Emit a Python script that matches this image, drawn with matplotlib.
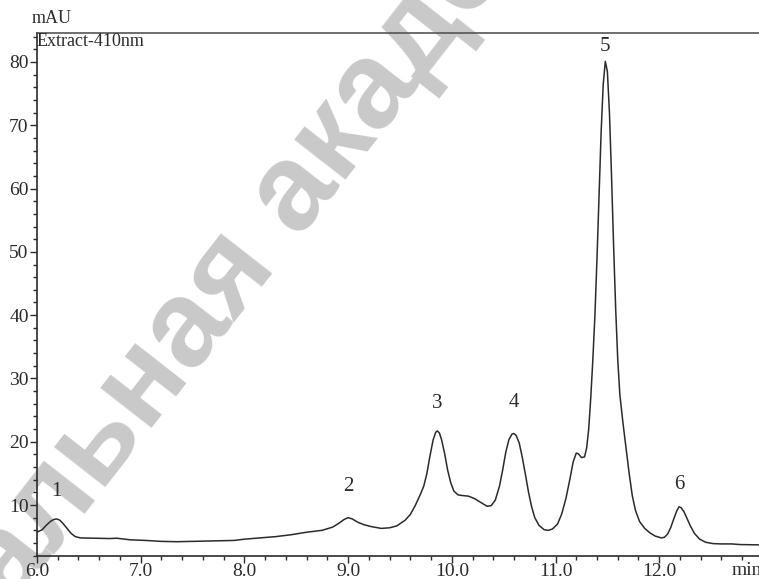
import matplotlib.pyplot as plt
from matplotlib.ticker import MultipleLocator

# chromatogram trace, extract at 410 nm
time_min = [6.00, 6.05, 6.09, 6.13, 6.16, 6.19, 6.22, 6.25, 6.29, 6.33,
            6.37, 6.42, 6.55, 6.70, 6.77, 6.90, 7.05, 7.20, 7.35, 7.50,
            7.70, 7.90, 8.00, 8.15, 8.30, 8.45, 8.60, 8.75, 8.85, 8.91,
            8.96, 9.00, 9.04, 9.09, 9.15, 9.22, 9.32, 9.40, 9.47, 9.55,
            9.60, 9.65, 9.70, 9.73, 9.76, 9.79, 9.82, 9.845, 9.86, 9.88,
            9.90, 9.93, 9.96, 9.99, 10.02, 10.06, 10.10, 10.16, 10.22, 10.28,
            10.34, 10.38, 10.42, 10.46, 10.49, 10.52, 10.55, 10.58, 10.60, 10.62,
            10.65, 10.68, 10.71, 10.74, 10.77, 10.80, 10.84, 10.89, 10.93, 10.97,
            11.02, 11.06, 11.10, 11.14, 11.17, 11.20, 11.22, 11.25, 11.28, 11.30,
            11.32, 11.34, 11.36, 11.38, 11.40, 11.42, 11.44, 11.46, 11.48, 11.50,
            11.52, 11.54, 11.56, 11.58, 11.60, 11.62, 11.65, 11.68, 11.71, 11.74,
            11.77, 11.81, 11.86, 11.91, 11.96, 12.02, 12.05, 12.08, 12.11, 12.14,
            12.17, 12.19, 12.21, 12.24, 12.27, 12.30, 12.34, 12.39, 12.45, 12.52,
            12.60, 12.70, 12.78, 12.96]
mau = [5.7, 6.1, 6.8, 7.4, 7.7, 7.8, 7.6, 7.1, 6.3, 5.5,
       5.0, 4.8, 4.75, 4.7, 4.75, 4.5, 4.4, 4.25, 4.2, 4.25,
       4.3, 4.4, 4.6, 4.8, 5.0, 5.3, 5.7, 6.0, 6.5, 7.1,
       7.7, 8.0, 7.8, 7.3, 6.9, 6.6, 6.3, 6.4, 6.7, 7.6,
       8.5, 10.0, 11.8, 13.0, 15.0, 17.8, 20.3, 21.5, 21.7, 21.4,
       20.4, 18.2, 15.5, 13.5, 12.2, 11.6, 11.5, 11.4, 11.0, 10.4,
       9.8, 9.9, 10.8, 13.0, 15.5, 18.3, 20.3, 21.2, 21.3, 21.0,
       19.8, 17.5, 14.8, 12.0, 9.7, 8.0, 6.8, 6.1, 6.0, 6.2,
       7.0, 8.6, 11.0, 14.2, 16.8, 18.2, 18.1, 17.5, 17.6, 19.0,
       22.0, 27.0, 33.0, 40.0, 49.0, 59.0, 69.0, 76.5, 80.1, 78.5,
       72.0, 62.0, 51.0, 41.0, 33.0, 27.5, 23.0, 19.0, 15.0, 11.5,
       9.2, 7.4, 6.3, 5.6, 5.1, 4.8, 4.9, 5.4, 6.4, 7.8,
       9.1, 9.7, 9.6, 8.9, 7.8, 6.7, 5.5, 4.6, 4.1, 3.9,
       3.85, 3.85, 3.75, 3.7]

# numbered peaks
peak_labels = ['1', '2', '3', '4', '5', '6']
peak_times = [6.19, 9.00, 9.86, 10.60, 11.48, 12.19]
peak_heights = [7.8, 8.0, 21.7, 21.3, 80.1, 9.7]

x_ticks = [6.0, 7.0, 8.0, 9.0, 10.0, 11.0, 12.0]
x_tick_labels = ['6.0', '7.0', '8.0', '9.0', '10.0', '11.0', '12.0']
y_ticks = [10, 20, 30, 40, 50, 60, 70, 80]

serif = 'Liberation Serif'
ink = '#2b2b2b'

fig = plt.figure(figsize=(7.59, 5.79), dpi=100)
ax = fig.add_axes([0.0487, 0.0397, 0.9513, 0.9033])
ax.set_zorder(2)

# faint watermark, kept underneath the axes
fig.text(0.014, -0.05, 'альная академия', transform=fig.transFigure,
         rotation=52, rotation_mode='anchor', ha='left', va='baseline',
         fontsize=88, family='Liberation Sans', weight='bold',
         color='#c9c9c9', zorder=0)

ax.plot(time_min, mau, color=ink, lw=1.1, zorder=3)

# offsets (pixels) of the peak numbers above each apex
label_offsets = [27, 31, 27, 31, 15, 22]
for lab, t, h, off in zip(peak_labels, peak_times, peak_heights, label_offsets):
    ax.annotate(lab, (t, h), xytext=(0, off), textcoords='offset pixels',
                ha='center', va='center', fontsize=15, family=serif, color=ink)

ax.set_xlim(6.0, 12.962)
ax.set_ylim(1.94, 84.58)
ax.set_xticks(x_ticks)
ax.set_xticklabels(x_tick_labels)
ax.set_yticks(y_ticks)
ax.xaxis.set_minor_locator(MultipleLocator(0.2))
ax.yaxis.set_minor_locator(MultipleLocator(2))
ax.tick_params(which='major', direction='out', length=5, width=1, color=ink,
               labelsize=14, labelcolor=ink)
ax.tick_params(axis='x', which='major', pad=0)
ax.tick_params(axis='y', which='major', pad=1)
ax.tick_params(which='minor', direction='out', length=3, width=1, color=ink)
for lbl in ax.get_xticklabels() + ax.get_yticklabels():
    lbl.set_family(serif)

ax.patch.set_alpha(0)
ax.spines['right'].set_visible(False)
ax.spines['left'].set_color(ink)
ax.spines['bottom'].set_color(ink)
ax.spines['top'].set_color('#555555')
for s in ax.spines.values():
    s.set_linewidth(1.2)

ax.text(0.0, 1.0, 'Extract-410nm', transform=ax.transAxes, ha='left', va='top',
        fontsize=13, family=serif, color=ink)
fig.text(0.042, 0.968, 'mAU', ha='left', va='center', fontsize=13,
         family=serif, color=ink)
ax.text(12.84, -0.012, 'min', transform=ax.get_xaxis_transform(), ha='center',
        va='top', fontsize=14, family=serif, color=ink)

fig.savefig('out.png', dpi=100)
